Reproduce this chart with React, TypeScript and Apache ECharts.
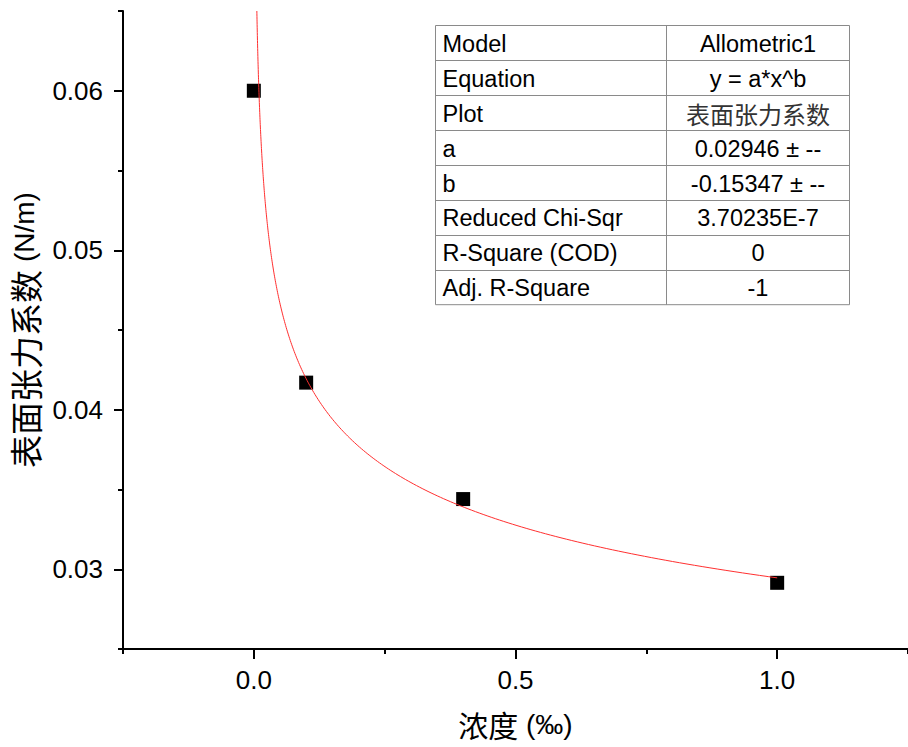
import React, { useEffect, useRef } from "react";
import * as echarts from "echarts";

const X_VALUES = [0, 0.1, 0.4, 1.0];
const Y_VALUES = [0.06, 0.0417, 0.0344, 0.02915];

const FIT_A = 0.02946;
const FIT_B = -0.15347;

const X_MIN = -0.25;
const X_MAX = 1.25;
const Y_MIN = 0.025;
const Y_MAX = 0.065;

const X_MAJOR = [0, 0.5, 1.0];
const X_MINOR = [-0.25, 0.25, 0.75, 1.25];
const Y_MAJOR = [0.03, 0.04, 0.05, 0.06];
const Y_MINOR = [0.025, 0.035, 0.045, 0.055, 0.065];

const TABLE_LABELS = [
  "Model",
  "Equation",
  "Plot",
  "a",
  "b",
  "Reduced Chi-Sqr",
  "R-Square (COD)",
  "Adj. R-Square",
];
const TABLE_VALUES = [
  "Allometric1",
  "y = a*x^b",
  "表面张力系数",
  "0.02946 ± --",
  "-0.15347 ± --",
  "3.70235E-7",
  "0",
  "-1",
];

const LATIN = "'Liberation Sans', Arial, sans-serif";
const CJK = "'Noto Sans CJK SC', sans-serif";

function fitCurve(): number[][] {
  // curve of the fitted model y = a*x^b, from where it enters the plot to x = 1
  const xStart = Math.pow(Y_MAX / FIT_A, 1 / FIT_B);
  const pts: number[][] = [];
  const n = 300;
  const l0 = Math.log(xStart);
  const l1 = Math.log(1);
  for (let i = 0; i <= n; i++) {
    const x = Math.exp(l0 + ((l1 - l0) * i) / n);
    pts.push([x, FIT_A * Math.pow(x, FIT_B)]);
  }
  return pts;
}

export default function App() {
  const ref = useRef<HTMLDivElement>(null);

  useEffect(() => {
    if (!ref.current) return;
    const chart = echarts.init(ref.current, undefined, { renderer: "svg" });

    const tLeft = 435.5;
    const tRight = 849.5;
    const tMid = 666.5;
    const tTop = 25.5;
    const rowH = 34.9;
    const nRows = TABLE_LABELS.length;
    const tBottom = tTop + rowH * nRows;

    const tableChildren: any[] = [
      {
        type: "rect",
        shape: { x: tLeft, y: tTop, width: tRight - tLeft, height: tBottom - tTop },
        style: { fill: "#fff", stroke: "#8a8a8a", lineWidth: 1 },
      },
      {
        type: "line",
        shape: { x1: tMid, y1: tTop, x2: tMid, y2: tBottom },
        style: { stroke: "#8a8a8a", lineWidth: 1 },
      },
    ];
    for (let i = 1; i < nRows; i++) {
      const y = Math.round(tTop + rowH * i) + 0.5;
      tableChildren.push({
        type: "line",
        shape: { x1: tLeft, y1: y, x2: tRight, y2: y },
        style: { stroke: "#8a8a8a", lineWidth: 1 },
      });
    }
    TABLE_LABELS.forEach((label, i) => {
      const cy = tTop + rowH * i + rowH / 2 + 1;
      tableChildren.push({
        type: "text",
        x: tLeft + 7,
        y: cy,
        style: {
          text: label,
          fontFamily: LATIN,
          fontSize: 23.5,
          fill: "#000",
          align: "left",
          verticalAlign: "middle",
        },
      });
      const v = TABLE_VALUES[i];
      const isCjk = /[\u4e00-\u9fff]/.test(v);
      tableChildren.push({
        type: "text",
        x: (tMid + tRight) / 2,
        y: cy,
        style: {
          text: v,
          fontFamily: isCjk ? CJK : LATIN,
          fontSize: isCjk ? 24 : 23.5,
          fill: isCjk ? "#333" : "#000",
          align: "center",
          verticalAlign: "middle",
        },
      });
    });

    const axisLineStyle = { color: "#000", width: 2 };

    const option: any = {
      animation: false,
      backgroundColor: "#fff",
      grid: { left: 123, top: 11, right: -4.5, bottom: 98, containLabel: false },
      xAxis: [
        {
          type: "value",
          min: X_MIN,
          max: X_MAX,
          position: "bottom",
          name: "{c|浓度}{e| (‰)}",
          nameLocation: "middle",
          nameGap: 60,
          nameTextStyle: {
            rich: {
              c: { fontFamily: CJK, fontSize: 30, color: "#000" },
              e: { fontFamily: LATIN, fontSize: 28, color: "#000" },
            },
          },
          axisLine: { show: true, onZero: false, lineStyle: axisLineStyle },
          axisTick: {
            show: true,
            inside: false,
            length: 10,
            customValues: X_MAJOR,
            lineStyle: { color: "#000", width: 2 },
          },
          axisLabel: {
            customValues: X_MAJOR,
            margin: 18,
            fontFamily: LATIN,
            fontSize: 26,
            color: "#000",
            formatter: (v: number) => v.toFixed(1),
          },
          splitLine: { show: false },
        },
        {
          type: "value",
          min: X_MIN,
          max: X_MAX,
          position: "bottom",
          axisLine: { show: false, onZero: false },
          axisTick: {
            show: true,
            inside: false,
            length: 5,
            customValues: X_MINOR,
            lineStyle: { color: "#000", width: 2 },
          },
          axisLabel: { show: false },
          splitLine: { show: false },
        },
      ],
      yAxis: [
        {
          type: "value",
          min: Y_MIN,
          max: Y_MAX,
          position: "left",
          name: "{c|表面张力系数}{e| (N/m)}",
          nameLocation: "middle",
          nameGap: 79,
          nameTextStyle: {
            rich: {
              c: { fontFamily: CJK, fontSize: 33, color: "#000" },
              e: { fontFamily: LATIN, fontSize: 28, color: "#000" },
            },
          },
          axisLine: { show: true, onZero: false, lineStyle: axisLineStyle },
          axisTick: {
            show: true,
            inside: false,
            length: 9,
            customValues: Y_MAJOR,
            lineStyle: { color: "#000", width: 2 },
          },
          axisLabel: {
            customValues: Y_MAJOR,
            margin: 20,
            fontFamily: LATIN,
            fontSize: 26,
            color: "#000",
            formatter: (v: number) => v.toFixed(2),
          },
          splitLine: { show: false },
        },
        {
          type: "value",
          min: Y_MIN,
          max: Y_MAX,
          position: "left",
          axisLine: { show: false, onZero: false },
          axisTick: {
            show: true,
            inside: false,
            length: 5,
            customValues: Y_MINOR,
            lineStyle: { color: "#000", width: 2 },
          },
          axisLabel: { show: false },
          splitLine: { show: false },
        },
      ],
      series: [
        {
          type: "scatter",
          xAxisIndex: 0,
          yAxisIndex: 0,
          symbol: "rect",
          symbolSize: 14,
          itemStyle: { color: "#000", opacity: 1 },
          data: X_VALUES.map((x, i) => [x, Y_VALUES[i]]),
          z: 2,
        },
        {
          type: "line",
          xAxisIndex: 0,
          yAxisIndex: 0,
          showSymbol: false,
          symbol: "none",
          smooth: false,
          lineStyle: { color: "#ff3030", width: 1 },
          data: fitCurve(),
          z: 3,
        },
      ],
      graphic: [{ type: "group", children: tableChildren, z: 10 }],
    };

    chart.setOption(option);
    return () => chart.dispose();
  }, []);

  return (
    <div
      ref={ref}
      style={{ position: "absolute", left: 0, top: 0, width: 908, height: 747 }}
    />
  );
}
